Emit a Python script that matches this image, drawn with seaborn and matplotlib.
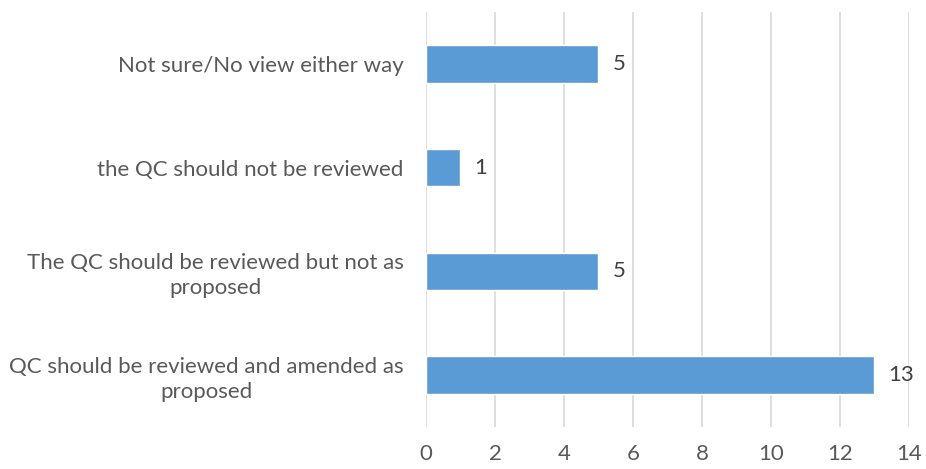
import matplotlib
matplotlib.use("Agg")
import matplotlib.pyplot as plt
import seaborn as sns
import pandas as pd

categories = [
    "Not sure/No view either way",
    "the QC should not be reviewed",
    "The QC should be reviewed but not as\nproposed",
    "QC should be reviewed and amended as\nproposed",
]
responses = [5, 1, 5, 13]
x_ticks = [0, 2, 4, 6, 8, 10, 12, 14]

sns.set_theme(style="white")
plt.rcParams["font.family"] = ["Lato", "DejaVu Sans"]

text_color = "#595959"
bar_color = "#5B9BD5"

df = pd.DataFrame({"category": categories, "count": responses})

fig = plt.figure(figsize=(9.26, 4.69), dpi=100)
ax = fig.add_axes([0.46, 0.0896, 0.5216, 0.8848])

sns.barplot(data=df, x="count", y="category", orient="h", color=bar_color,
            saturation=1, width=0.36, ax=ax)

ax.set_xlim(0, 14)
ax.set_ylim(3.5, -0.5)
ax.set_xticks(x_ticks)
ax.set_xlabel("")
ax.set_ylabel("")
ax.grid(axis="x", color="#D9D9D9", linewidth=1.2)
ax.set_axisbelow(True)
for s in ax.spines.values():
    s.set_visible(False)

ax.tick_params(axis="x", length=0, pad=12, labelsize=16, labelcolor=text_color)
ax.tick_params(axis="y", length=0, pad=16, labelsize=16, labelcolor=text_color)
for lbl in ax.get_yticklabels():
    lbl.set_multialignment("center")
    lbl.set_linespacing(1.3)

ax.bar_label(ax.containers[0], labels=[str(v) for v in responses],
             padding=10, fontsize=16, color="#404040")

fig.savefig("out.png", dpi=100)
